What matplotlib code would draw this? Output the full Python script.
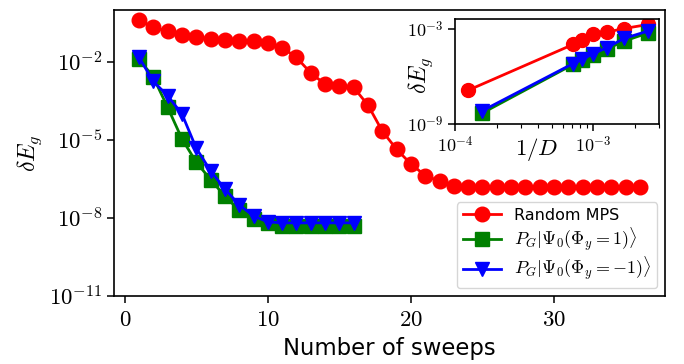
import numpy as np
import matplotlib
matplotlib.use('Agg')
import matplotlib.pyplot as plt

plt.rcParams['mathtext.fontset'] = 'cm'
plt.rcParams['font.family'] = 'DejaVu Sans'

# main panel: energy error vs number of sweeps
sweeps_rand = list(range(1, 37))
dE_rand = [4.1e-1, 2.2e-1, 1.5e-1, 1.1e-1, 9.3e-2, 7.9e-2, 7.2e-2, 6.6e-2, 6.5e-2,
           5.2e-2, 3.6e-2, 1.5e-2, 3.8e-3, 1.4e-3, 1.2e-3, 1.05e-3, 2.2e-4, 2.2e-5,
           4.4e-6, 1.2e-6, 4.3e-7, 2.6e-7, 1.7e-7, 1.5e-7, 1.5e-7, 1.5e-7, 1.5e-7,
           1.5e-7, 1.5e-7, 1.5e-7, 1.5e-7, 1.5e-7, 1.5e-7, 1.5e-7, 1.5e-7, 1.5e-7]

sweeps_pg = list(range(1, 17))
dE_pg_plus = [1.3e-2, 2.6e-3, 1.8e-4, 1.1e-5, 1.4e-6, 3.0e-7, 6.9e-8, 2.0e-8,
              9.5e-9, 6.5e-9, 4.8e-9, 4.8e-9, 4.8e-9, 4.8e-9, 4.8e-9, 4.8e-9]
dE_pg_minus = [1.5e-2, 1.8e-3, 5.0e-4, 1.0e-4, 4.8e-6, 6.5e-7, 1.3e-7, 3.2e-8,
               1.2e-8, 7.1e-9, 6.5e-9, 6.5e-9, 6.5e-9, 6.5e-9, 6.5e-9, 6.5e-9]

# inset: energy error vs 1/D
D_rand = [8000, 1400, 1200, 1000, 800, 600, 400]
dE_D_rand = [1.4e-7, 1.05e-4, 2.1e-4, 5.1e-4, 6.2e-4, 1.05e-3, 1.9e-3]
D_pg = [6400, 1400, 1200, 1000, 800, 600, 400]
dE_D_plus = [4.9e-9, 5.8e-6, 1.07e-5, 2.2e-5, 5.4e-5, 1.7e-4, 5.6e-4]
dE_D_minus = [6.8e-9, 6.6e-6, 1.2e-5, 2.8e-5, 6.5e-5, 2.5e-4, 7.4e-4]

lab_rand = 'Random MPS'
lab_plus = r'$P_G|\Psi_0(\Phi_y=1)\rangle$'
lab_minus = r'$P_G|\Psi_0(\Phi_y=-1)\rangle$'

fig = plt.figure(figsize=(6.84, 3.64), dpi=100)
ax = fig.add_axes([0.1667, 0.1868, 0.8053, 0.7857])

ax.plot(sweeps_rand, dE_rand, color='red', marker='o', ms=10.5, lw=2, label=lab_rand)
ax.plot(sweeps_pg, dE_pg_plus, color='green', marker='s', ms=9.5, lw=2, label=lab_plus)
ax.plot(sweeps_pg, dE_pg_minus, color='blue', marker='v', ms=10, lw=2, label=lab_minus)

ax.set_yscale('log')
ax.set_ylim(1e-11, 1)
ax.set_yticks([1e-2, 1e-5, 1e-8, 1e-11])
ax.set_yticklabels([r'$10^{-2}$', r'$10^{-5}$', r'$10^{-8}$', r'$10^{-11}$'])
ax.minorticks_off()
ax.set_xticks([0, 10, 20, 30])
ax.set_xticklabels([r'$0$', r'$10$', r'$20$', r'$30$'])
ax.tick_params(labelsize=16.5, length=4.8, width=1.1)
for s in ax.spines.values():
    s.set_linewidth(1.2)
ax.set_xlabel('Number of sweeps', fontsize=16.4, labelpad=5)
ax.set_ylabel(r'$\delta E_g$', fontsize=17)

leg = ax.legend(loc='lower right', fontsize=11.5, labelspacing=0.12,
                handlelength=2.4, borderpad=0.35)
for t in leg.get_texts()[1:]:
    t.set_fontsize(13)

# inset
ins = fig.add_axes([0.6652, 0.6585, 0.2987, 0.2885])
ins.plot(1 / np.array(D_rand), dE_D_rand, color='red', marker='o', ms=10, lw=2)
ins.plot(1 / np.array(D_pg), dE_D_plus, color='green', marker='s', ms=9.5, lw=2)
ins.plot(1 / np.array(D_pg), dE_D_minus, color='blue', marker='v', ms=10, lw=2)
ins.set_xscale('log')
ins.set_yscale('log')
ins.set_xlim(1e-4, 3e-3)
ins.set_ylim(1e-9, 4e-3)
ins.set_yticks([1e-3, 1e-9])
ins.set_yticklabels([r'$10^{-3}$', r'$10^{-9}$'])
ins.yaxis.set_minor_locator(matplotlib.ticker.NullLocator())
ins.set_xticks([1e-4, 1e-3])
ins.set_xticklabels([r'$10^{-4}$', r'$10^{-3}$'])
ins.tick_params(labelsize=13, length=4.8, width=1.1)
ins.tick_params(which='minor', length=2.8, width=0.8)
for s in ins.spines.values():
    s.set_linewidth(1.2)
ins.set_xlabel(r'$1/D$', fontsize=16.5)
ins.xaxis.set_label_coords(0.40, -0.11)
ins.set_ylabel(r'$\delta E_g$', fontsize=17)
ins.yaxis.set_label_coords(-0.10, 0.47)

fig.savefig('out.png', dpi=100)
